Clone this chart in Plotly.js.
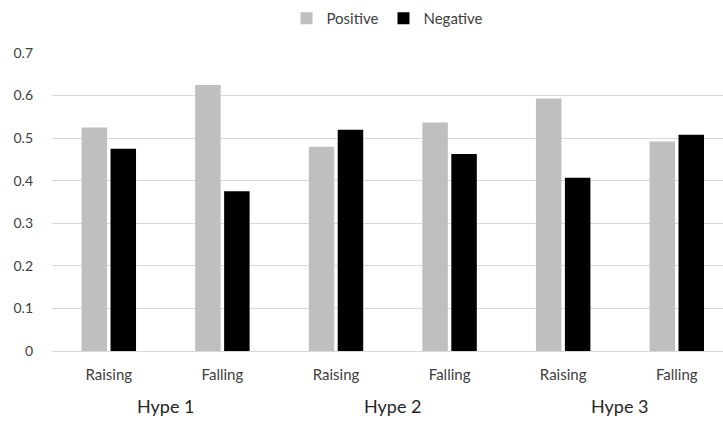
<!DOCTYPE html>
<html>
<head>
<meta charset="utf-8">
<script src="https://cdn.plot.ly/plotly-3.0.1.min.js"></script>
<style>html,body{margin:0;padding:0;background:#fff;}#chart{width:723px;height:421px;}</style>
</head>
<body>
<div id="chart"></div>
<script>
const groups = ["Hype 1", "Hype 1", "Hype 2", "Hype 2", "Hype 3", "Hype 3"];
const phases = ["Raising", "Falling", "Raising", "Falling", "Raising", "Falling"];
const positive = [0.525, 0.625, 0.480, 0.537, 0.593, 0.492];
const negative = [0.475, 0.375, 0.520, 0.463, 0.407, 0.508];

const font = "Lato, 'Open Sans', sans-serif";
const idx = phases.map((_, i) => i);

const data = [
  {type: "bar", name: "Positive", x: idx, y: positive, marker: {color: "#bfbfbf"}},
  {type: "bar", name: "Negative", x: idx, y: negative, marker: {color: "#000000"}}
];

// group labels centred under their categories
const groupNames = [...new Set(groups)];
const annotations = groupNames.map(g => {
  const members = idx.filter(i => groups[i] === g);
  const mid = members.reduce((a, b) => a + b, 0) / members.length;
  return {text: g, x: mid, xref: "x", y: -0.185, yref: "paper", yanchor: "middle", xanchor: "center",
          showarrow: false, font: {size: 18, color: "#262626", family: font}};
});

const layout = {
  width: 723, height: 421,
  margin: {l: 52, r: 0, t: 53, b: 70},
  paper_bgcolor: "#fff", plot_bgcolor: "#fff",
  font: {family: font, size: 14, color: "#404040"},
  barmode: "group",
  bargap: 0.49,
  bargroupgap: 0.12,
  showlegend: true,
  legend: {orientation: "h", x: 0.5, xanchor: "center", yref: "container", y: 0.995, yanchor: "top",
           font: {size: 15, color: "#404040"}, itemwidth: 30, tracegroupgap: 0},
  xaxis: {type: "linear", tickvals: idx, ticktext: phases, showline: true, linecolor: "#d9d9d9", linewidth: 1,
          showgrid: false, zeroline: false, ticks: "", ticklabelstandoff: 10,
          tickfont: {size: 15, color: "#404040"}, range: [-0.5, 5.407]},
  yaxis: {range: [0, 0.7], dtick: 0.1, showgrid: true, gridcolor: "#d9d9d9", gridwidth: 1,
          zeroline: false, showline: false, ticks: "", ticklabelstandoff: 18,
          tickfont: {size: 14, color: "#404040"}},
  annotations: annotations
};

Plotly.newPlot("chart", data, layout, {displayModeBar: false, staticPlot: true});
</script>
</body>
</html>
